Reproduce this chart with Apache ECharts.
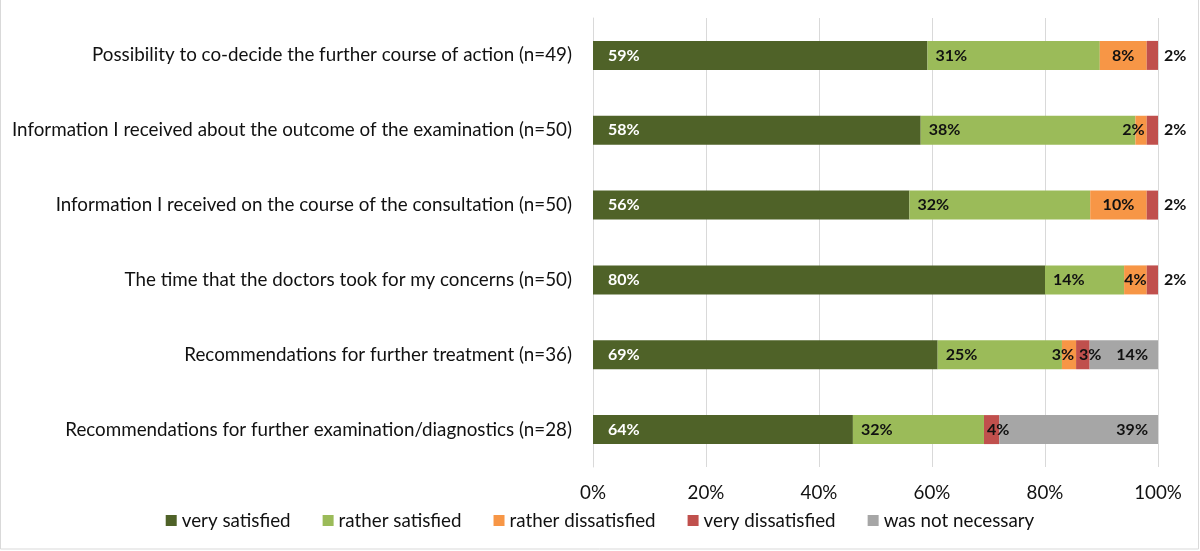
<!DOCTYPE html>
<html>
<head>
<meta charset="utf-8">
<script src="https://cdn.jsdelivr.net/npm/echarts@6/dist/echarts.min.js"></script>
<style>
html,body{margin:0;padding:0;background:#fff;}
#c{width:1200px;height:551px;}
</style>
</head>
<body>
<div id="c"></div>
<script>
// Categories (top to bottom)
const categories = [
  'Possibility to co-decide the further course of action (n=49)',
  'Information I received about the outcome of the examination (n=50)',
  'Information I received on the course of the consultation (n=50)',
  'The time that the doctors took for my concerns (n=50)',
  'Recommendations for further treatment (n=36)',
  'Recommendations for further examination/diagnostics (n=28)'
];
const seriesNames = ['very satisfied','rather satisfied','rather dissatisfied','very dissatisfied','was not necessary'];

// Bar segment widths (% of bar)
const verySatisfied      = [59.2, 58, 56, 80, 61, 46];
const ratherSatisfied    = [30.5, 38, 32, 14, 22, 23.2];
const ratherDissatisfied = [8.3, 2, 10, 4, 2.5, 0];
const veryDissatisfied   = [2, 2, 2, 2, 2.4, 2.7];
const notNecessary       = [0, 0, 0, 0, 12.1, 28.1];

// Printed data labels (%)
const lblVerySatisfied      = [59, 58, 56, 80, 69, 64];
const lblRatherSatisfied    = [31, 38, 32, 14, 25, 32];
const lblRatherDissatisfied = [8, 2, 10, 4, 3, null];
const lblVeryDissatisfied   = [2, 2, 2, 2, 3, 4];
const lblNotNecessary       = [null, null, null, null, 14, 39];

// X-axis ticks
const xMin = 0, xMax = 100, xStep = 20;

const colors = ['#4F6228','#9BBB59','#F79646','#C0504D','#A6A6A6'];
const FONT = 'Lato';

const baseLabel = {show:true, fontFamily:FONT, fontWeight:'bold', fontSize:16, color:'#111'};

function mk(values, labels, labelFn){
  return values.map((v,i)=>{
    const lbl = labels[i];
    const item = {value: v};
    if (lbl == null || v === 0) {
      item.label = {show:false};
    } else {
      item.label = Object.assign({}, baseLabel, {formatter: lbl + '%'}, labelFn ? labelFn(v,i) : {});
    }
    return item;
  });
}

const seriesData = [
  mk(verySatisfied, lblVerySatisfied, ()=>({position:'insideLeft', distance:15, color:'#fff'})),
  mk(ratherSatisfied, lblRatherSatisfied, ()=>({position:'insideLeft', distance:8})),
  mk(ratherDissatisfied, lblRatherDissatisfied, (v)=> v < 3 ? {position:'insideRight', distance:2} : {position:'inside'}),
  mk(veryDissatisfied, lblVeryDissatisfied, (v,i)=> notNecessary[i] > 0 ? {position:'insideLeft', distance:3} : {position:'right', distance:6}),
  mk(notNecessary, lblNotNecessary, ()=>({position:'insideRight', distance:10}))
];

const chart = echarts.init(document.getElementById('c'), null, {renderer:'canvas'});
chart.setOption({
  animation:false,
  backgroundColor:'#fff',
  color: colors,
  graphic:[{type:'rect', shape:{x:0.5, y:-2, width:1198, height:551}, style:{fill:'none', stroke:'#D9D9D9', lineWidth:1}, silent:true}],
  grid:{left:593, right:42, top:18, bottom:84, containLabel:false},
  legend:{
    data: seriesNames,
    bottom: 16,
    left:'center',
    icon:'rect',
    itemWidth:11, itemHeight:11, itemGap:32,
    textStyle:{fontFamily:FONT, fontSize:18.8, color:'#111'}
  },
  xAxis:{
    type:'value', min:xMin, max:xMax, interval:xStep,
    axisLabel:{formatter:'{value}%', fontFamily:FONT, fontSize:18.8, color:'#111', margin:16},
    axisLine:{show:false}, axisTick:{show:false},
    splitLine:{lineStyle:{color:'#D9D9D9', width:1}}
  },
  yAxis:{
    type:'category', inverse:true, data:categories,
    axisLine:{show:true, lineStyle:{color:'#D9D9D9'}},
    axisTick:{show:false},
    axisLabel:{fontFamily:FONT, fontSize:18.8, color:'#111', margin:21}
  },
  series: seriesNames.map((n,k)=>({
    name:n, type:'bar', stack:'total', barWidth:29,
    itemStyle:{color:colors[k]},
    data: seriesData[k]
  }))
});
</script>
</body>
</html>
